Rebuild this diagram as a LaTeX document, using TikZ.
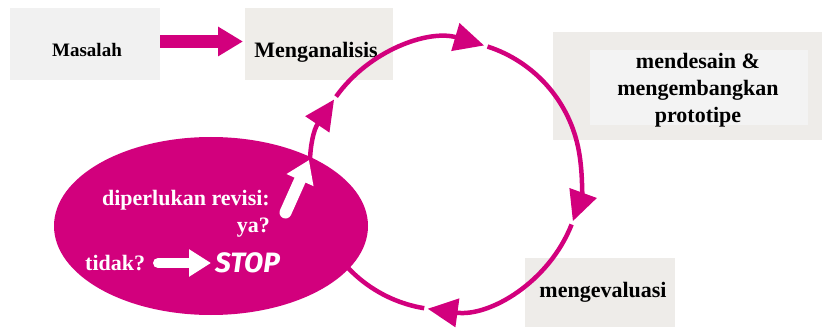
\documentclass[tikz,border=0pt]{standalone}
\usepackage{fontspec}
\setmainfont{Liberation Serif}
\newfontfamily\stopfont{Fira Sans}
\usetikzlibrary{arrows.meta,shapes.geometric}
\definecolor{mag}{RGB}{210,0,125}
\definecolor{boxa}{RGB}{241,241,241}
\definecolor{boxb}{RGB}{239,237,233}
\definecolor{boxc}{RGB}{238,236,233}
\definecolor{boxd}{RGB}{243,243,243}
\begin{document}
\begin{tikzpicture}[x=1pt,y=1pt,
  graybox/.style={inner sep=0pt, outer sep=0pt, draw=none},
  lbl/.style={font=\fontsize{22}{27}\selectfont\bfseries, inner sep=0pt, text=black, align=center},
  wlbl/.style={font=\fontsize{22}{27}\selectfont\bfseries, inner sep=0pt, text=white},
  cyc/.style={draw=mag, line width=4.5pt, -{Triangle[length=30pt,width=28pt]}},
  warrow/.style={draw=white, line cap=round}]
\useasboundingbox (0,0) rectangle (822,327);
% boxes
\node[graybox, fill=boxa, minimum width=150pt, minimum height=72pt] (masbox) at (85,283) {};
\node[graybox, fill=boxb, minimum width=148pt, minimum height=72pt] (menbox) at (319,283) {};
\node[graybox, fill=boxc, minimum width=269pt, minimum height=108pt] (desbox) at (687.5,241) {};
\node[graybox, fill=boxd, minimum width=218pt, minimum height=75pt] (desin) at (699,239.5) {};
\node[graybox, fill=boxc, minimum width=150pt, minimum height=69pt] (evbox) at (600,34.5) {};
% labels
\node[lbl, font=\fontsize{19}{23}\selectfont\bfseries] (mas) at (87,277) {Masalah};
\node[lbl] (men) at (316,275) {Menganalisis};
\node[lbl] (des) at (698,237) {mendesain \&\\mengembangkan\\prototipe};
\node[lbl] (ev) at (603,35) {mengevaluasi};
% arrow Masalah -> Menganalisis
\draw[mag, line width=13pt, -{Triangle[length=25pt,width=28pt]}]
  ([yshift=2.5pt]masbox.east) -- ([yshift=2.5pt,xshift=-2pt]menbox.west);
% cycle
\coordinate (C) at (446,152);
\draw[cyc] (C) ++(144.5:135) arc[start angle=144.5, end angle=73.6, radius=135];
\draw[cyc] (C) ++(72.1:135) arc[start angle=72.1, end angle=-20, radius=135];
\draw[cyc] (C) ++(-21.5:135) arc[start angle=-21.5, end angle=-97.8, radius=135];
\draw[cyc] (C) ++(-99.3:135) arc[start angle=-99.3, end angle=-214, radius=135];
% decision ellipse
\node[ellipse, fill=mag, draw=none, minimum width=314pt, minimum height=178pt, inner sep=0pt] (ell) at (211,101) {};
\node[wlbl, anchor=east] (rev) at (270,127) {diperlukan revisi:};
\node[wlbl, anchor=east] (ya) at (270,99) {ya?};
\node[wlbl, anchor=west] (tidak) at (85,64) {tidak?};
\node[anchor=west, inner sep=0pt, text=white, font=\stopfont\fontsize{28}{32}\selectfont\bfseries\itshape] (stop) at (215,64) {STOP};
\coordinate (tA) at (158,64);
\coordinate (tB) at (211,64);
\draw[warrow, line width=10pt, -{Triangle[length=22pt,width=26pt]}] (tA) -- (tB);
\coordinate (yA) at (285.5,114.5);
\coordinate (yB) at (309,167);
\draw[warrow, line width=12pt, -{Triangle[length=22pt,width=28pt]}] (yA) -- (yB);
\end{tikzpicture}
\end{document}
